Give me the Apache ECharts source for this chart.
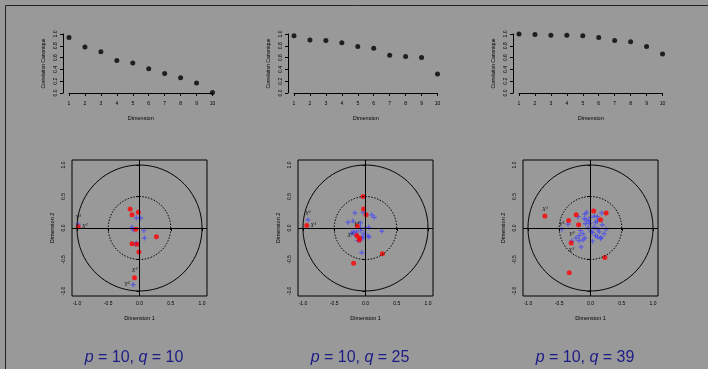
<!DOCTYPE html>
<html>
<head>
<meta charset="utf-8">
<script src="https://cdn.jsdelivr.net/npm/echarts@6/dist/echarts.min.js"></script>
<style>
  html, body { margin: 0; padding: 0; background: #999999; }
  #chart { width: 708px; height: 369px; }
</style>
</head>
<body>
<div id="chart"></div>
<script>
// canonical correlations per dimension
const dims = [1, 2, 3, 4, 5, 6, 7, 8, 9, 10];
const corrQ10 = [0.94, 0.78, 0.70, 0.55, 0.51, 0.41, 0.33, 0.26, 0.17, 0.01];
const corrQ25 = [0.97, 0.90, 0.89, 0.85, 0.79, 0.76, 0.64, 0.62, 0.60, 0.32];
const corrQ39 = [1.00, 0.99, 0.98, 0.98, 0.97, 0.94, 0.89, 0.87, 0.79, 0.66];

// variables on the correlation circle (dimension 1, dimension 2)
const redQ10 = [[-0.15, 0.30], [-0.02, 0.25], [-0.12, 0.21], [-0.98, 0.02], [-0.06, -0.02],
  [-0.12, -0.25], [-0.04, -0.26], [0.27, -0.14], [-0.01, -0.38], [-0.08, -0.79]];
const blueQ10 = [[-0.05, 0.16], [0.02, 0.16], [-0.98, 0.06], [-0.12, 0.01], [-0.10, -0.03],
  [0.07, -0.04], [0.08, -0.16], [-0.05, -0.24], [-0.07, -0.26], [-0.10, -0.90]];

const redQ25 = [[-0.04, 0.50], [-0.03, 0.30], [0.01, 0.21], [-0.94, 0.04], [-0.13, 0.03],
  [-0.14, -0.12], [-0.10, -0.16], [-0.10, -0.19], [0.27, -0.41], [-0.19, -0.56]];
const blueQ25 = [[-0.17, 0.24], [-0.04, 0.25], [-0.28, 0.09], [-0.20, 0.11], [-0.08, 0.08],
  [0.10, 0.21], [0.14, 0.17], [-0.92, 0.13], [-0.08, 0.00], [0.00, 0.00],
  [0.05, 0.01], [-0.22, -0.08], [-0.16, -0.11], [-0.06, -0.14], [-0.08, -0.19],
  [-0.04, -0.16], [0.04, -0.13], [0.26, -0.05], [-0.06, -0.39], [-0.14, -0.06],
  [-0.02, -0.09], [-0.12, -0.20], [-0.19, -0.06], [0.06, -0.14], [-0.07, -0.04]];

const redQ39 = [[-0.73, 0.19], [-0.35, 0.12], [-0.23, 0.21], [-0.19, 0.05], [0.05, 0.27],
  [0.16, 0.13], [0.25, 0.24], [-0.31, -0.24], [0.23, -0.47], [-0.34, -0.71]];
const blueQ39 = [[-0.20, 0.18], [-0.09, 0.22], [-0.10, 0.15], [-0.06, 0.13], [-0.08, 0.07],
  [-0.03, 0.11], [0.00, 0.17], [0.06, 0.19], [0.11, 0.18], [0.18, 0.24],
  [0.08, 0.09], [0.19, 0.05], [0.25, -0.02], [-0.46, -0.02], [-0.36, 0.06],
  [0.01, -0.06], [0.03, -0.07], [-0.16, -0.04], [-0.18, -0.12], [-0.12, -0.09],
  [-0.23, -0.16], [-0.12, -0.19], [-0.09, -0.16], [-0.18, -0.20], [-0.15, -0.30],
  [-0.30, -0.21], [0.08, -0.12], [0.14, -0.06], [0.17, -0.15], [0.11, -0.14],
  [0.03, -0.21], [0.16, -0.17], [-0.01, 0.07], [0.06, 0.01], [-0.04, 0.00],
  [0.22, -0.09], [0.11, 0.11], [-0.06, 0.25], [0.12, -0.02]];
const circleTicks = [-1, -0.5, 0, 0.5, 1];

// point tags: [series, index, text]
const tagsQ10 = [['red', 3, 'X¹'], ['blue', 2, 'Y¹'], ['red', 9, 'X²'], ['blue', 9, 'Y²']];
const tagsQ25 = [['red', 3, 'X¹'], ['blue', 7, 'Y¹'], ['blue', 19, 'Y²'], ['red', 5, 'X²']];
const tagsQ39 = [['red', 0, 'X¹'], ['blue', 14, 'Y¹'], ['blue', 25, 'Y²'], ['red', 7, 'X²']];
const qValues = ['10', '25', '39'];

const panels = [
  { corr: corrQ10, red: redQ10, blue: blueQ10, tags: tagsQ10 },
  { corr: corrQ25, red: redQ25, blue: blueQ25, tags: tagsQ25 },
  { corr: corrQ39, red: redQ39, blue: blueQ39, tags: tagsQ39 },
];
// where each tag sits relative to its point, per panel
const tagPlace = [
  { 'X¹': 'right', 'Y¹': 'top', 'X²': 'top', 'Y²': 'left' },
  { 'X¹': 'right', 'Y¹': 'top', 'Y²': 'top', 'X²': 'left' },
  { 'X¹': 'top', 'Y¹': 'left', 'Y²': 'top', 'X²': 'bottom' },
];

const topLeft = [69, 294, 519];
const botLeft = [72, 298, 523];
const titleX = [134, 360, 585];
const lim = 1.08;
const font = 'Liberation Sans, Arial, sans-serif';
const plusPath = 'path://M1.9,0H3.1V1.9H5V3.1H3.1V5H1.9V3.1H0V1.9H1.9Z';

function circle(r) {
  const pts = [];
  for (let k = 0; k <= 180; k++) {
    const t = (k / 180) * Math.PI * 2;
    pts.push([r * Math.cos(t), r * Math.sin(t)]);
  }
  return pts;
}

const grid = [], xAxis = [], yAxis = [], series = [];

panels.forEach((p, i) => {
  grid.push({ left: topLeft[i], top: 34, width: 143.5, height: 59 });
  xAxis.push({
    gridIndex: i, type: 'value', min: 1, max: 10, interval: 1, offset: 3,
    axisLine: { lineStyle: { color: '#000', width: 1 } },
    axisTick: { length: 3, lineStyle: { color: '#000' } },
    axisLabel: { fontSize: 5, margin: 5, color: '#000', fontFamily: font },
    splitLine: { show: false },
    name: 'Dimension', nameLocation: 'middle', nameGap: 19,
    nameTextStyle: { fontSize: 5.5, color: '#000', fontFamily: font },
  });
  yAxis.push({
    gridIndex: i, type: 'value', min: 0, max: 1, interval: 0.2, offset: 6,
    axisLine: { show: true, lineStyle: { color: '#000', width: 1 } },
    axisTick: { show: true, length: 3, lineStyle: { color: '#000' } },
    axisLabel: {
      fontSize: 5, margin: 5, rotate: 90, color: '#000', fontFamily: font,
      formatter: (v) => v.toFixed(1),
    },
    splitLine: { show: false },
    name: 'Correlation Canonique', nameLocation: 'middle', nameGap: 17,
    nameTextStyle: { fontSize: 5, color: '#000', fontFamily: font },
  });
  series.push({
    type: 'scatter', xAxisIndex: i, yAxisIndex: i, clip: false,
    symbolSize: 5, itemStyle: { color: '#000' },
    data: dims.map((d, k) => [d, p.corr[k]]),
  });
});

panels.forEach((p, i) => {
  const g = i + 3;
  grid.push({
    left: botLeft[i], top: 160, width: 135, height: 136,
    show: true, borderColor: '#000', borderWidth: 1, backgroundColor: 'transparent',
  });
  xAxis.push({
    gridIndex: g, type: 'value', min: -lim, max: lim,
    axisLine: { show: false },
    axisTick: { show: true, customValues: circleTicks, length: 3, lineStyle: { color: '#000' } },
    axisLabel: {
      customValues: circleTicks, fontSize: 5, margin: 5, color: '#000', fontFamily: font,
      formatter: (v) => v.toFixed(1),
    },
    splitLine: { show: false },
    name: 'Dimension 1', nameLocation: 'middle', nameGap: 19,
    nameTextStyle: { fontSize: 5.5, color: '#000', fontFamily: font },
  });
  yAxis.push({
    gridIndex: g, type: 'value', min: -lim, max: lim,
    axisLine: { show: false },
    axisTick: { show: true, customValues: circleTicks, length: 3, lineStyle: { color: '#000' } },
    axisLabel: {
      customValues: circleTicks, fontSize: 5, margin: 6, rotate: 90, color: '#000', fontFamily: font,
      formatter: (v) => v.toFixed(1),
    },
    splitLine: { show: false },
    name: 'Dimension 2', nameLocation: 'middle', nameGap: 17,
    nameTextStyle: { fontSize: 5.5, color: '#000', fontFamily: font },
  });

  series.push({
    type: 'line', xAxisIndex: g, yAxisIndex: g, data: circle(1), symbol: 'none',
    clip: false, silent: true, lineStyle: { color: '#000', width: 1 },
    markLine: {
      silent: true, symbol: 'none', label: { show: false },
      lineStyle: { color: '#000', width: 1, type: 'solid' },
      data: [{ xAxis: 0 }, { yAxis: 0 }],
    },
  });
  series.push({
    type: 'line', xAxisIndex: g, yAxisIndex: g, data: circle(0.5), symbol: 'none',
    clip: false, silent: true, lineStyle: { color: '#000', width: 1, type: [1.5, 1.5] },
  });

  const tagFor = (kind, k) => {
    const t = p.tags.find((e) => e[0] === kind && e[1] === k);
    if (!t) return undefined;
    return {
      show: true, formatter: t[2], position: tagPlace[i][t[2]], distance: 1,
      fontSize: 6.5, fontStyle: 'italic', fontFamily: 'Liberation Serif, serif', color: '#000',
    };
  };

  series.push({
    type: 'scatter', xAxisIndex: g, yAxisIndex: g, clip: false,
    symbol: plusPath, symbolSize: 5, itemStyle: { color: '#4b4bf0' },
    data: p.blue.map((v, k) => ({ value: v, label: tagFor('blue', k) })),
  });
  series.push({
    type: 'scatter', xAxisIndex: g, yAxisIndex: g, clip: false,
    symbolSize: 5, itemStyle: { color: '#ff0000' },
    data: p.red.map((v, k) => ({ value: v, label: tagFor('red', k) })),
  });
});

const chart = echarts.init(document.getElementById('chart'));
chart.setOption({
  backgroundColor: '#999999',
  animation: false,
  grid, xAxis, yAxis, series,
  graphic: [
    {
      type: 'rect', silent: true,
      shape: { x: 5.5, y: 5.5, width: 800, height: 500 },
      style: { fill: 'none', stroke: '#222', lineWidth: 1 },
    },
    ...qValues.map((q, i) => ({
      type: 'text', x: titleX[i], y: 358, silent: true,
      style: {
        text: '{i|p} = 10, {i|q} = ' + q,
        align: 'center', verticalAlign: 'middle',
        fontSize: 16, fontFamily: font, fill: '#1c1c86',
        rich: { i: { fontStyle: 'italic', fontSize: 16, fontFamily: font, color: '#1c1c86' } },
      },
    })),
  ],
});
</script>
</body>
</html>
